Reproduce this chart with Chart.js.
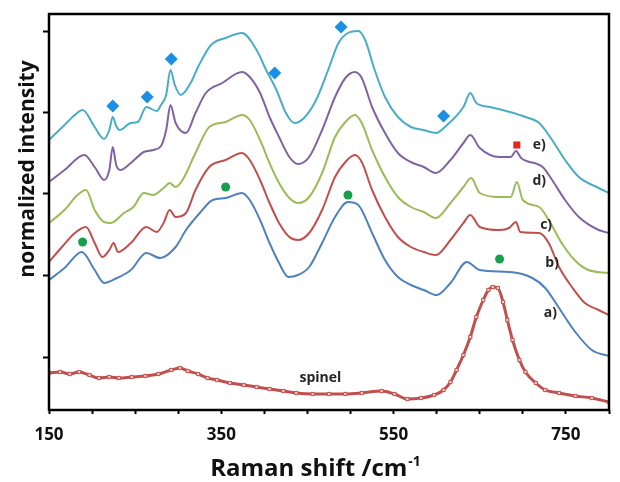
<!DOCTYPE html>
<html>
<head>
<meta charset="utf-8">
<script src="https://cdn.jsdelivr.net/npm/chart.js@4.4.1/dist/chart.umd.min.js"></script>
<style>
  html, body { margin: 0; padding: 0; background: #fff; }
  #wrap { width: 620px; height: 482px; }
</style>
</head>
<body>
<div id="wrap"><canvas id="chart" width="620" height="482"></canvas></div>
<script>
// Raman spectra, [shift cm-1, normalized intensity incl. stacking offset]
const specSpinel = [[150,0.37],[163,0.38],[174,0.36],[185,0.38],[197,0.35],[208,0.32],[220,0.33],[231,0.32],[246,0.33],[262,0.34],[277,0.36],[292,0.40],[302,0.42],[311,0.39],[323,0.36],[334,0.32],[345,0.30],[360,0.27],[376,0.25],[391,0.23],[406,0.21],[422,0.19],[437,0.17],[456,0.16],[475,0.16],[494,0.16],[513,0.17],[536,0.19],[551,0.16],[566,0.11],[582,0.12],[597,0.15],[608,0.20],[616,0.28],[623,0.40],[631,0.55],[639,0.73],[646,0.93],[654,1.10],[660,1.20],[665,1.23],[671,1.22],[677,1.08],[682,0.90],[688,0.70],[696,0.50],[703,0.38],[715,0.27],[726,0.20],[742,0.17],[761,0.14],[780,0.12],[800,0.08]];

const specA = [[150,1.30],[168,1.42],[188,1.58],[203,1.40],[214,1.27],[229,1.32],[245,1.40],[263,1.57],[279,1.52],[297,1.63],[309,1.80],[325,1.97],[340,2.10],[355,2.12],[374,2.17],[383,2.10],[395,1.90],[406,1.67],[417,1.47],[428,1.33],[439,1.35],[452,1.43],[467,1.67],[482,1.93],[497,2.08],[509,2.05],[525,1.77],[540,1.50],[555,1.33],[570,1.25],[585,1.20],[600,1.15],[616,1.27],[635,1.48],[650,1.40],[685,1.38],[711,1.32],[726,1.22],[742,1.02],[760,0.79],[780,0.60],[800,0.54]];

const specB = [[150,1.48],[165,1.63],[180,1.77],[193,1.83],[203,1.67],[212,1.53],[220,1.60],[225,1.67],[230,1.58],[245,1.67],[263,1.83],[275,1.78],[283,1.87],[290,2.00],[297,1.93],[309,1.97],[320,2.20],[336,2.43],[355,2.50],[374,2.57],[383,2.50],[395,2.30],[406,2.07],[417,1.87],[429,1.73],[439,1.70],[452,1.77],[467,2.00],[482,2.33],[494,2.48],[505,2.55],[513,2.48],[525,2.20],[540,1.93],[555,1.73],[570,1.63],[585,1.58],[599,1.55],[616,1.70],[631,1.87],[639,1.95],[650,1.83],[673,1.80],[684,1.82],[692,1.88],[697,1.78],[719,1.77],[730,1.67],[742,1.43],[757,1.23],[772,1.07],[788,1.00],[800,0.95]];

const specC = [[150,1.87],[168,2.00],[183,2.15],[193,2.20],[203,2.00],[214,1.88],[222,1.87],[237,1.97],[248,2.03],[260,2.17],[271,2.15],[283,2.22],[290,2.27],[297,2.23],[305,2.30],[320,2.57],[336,2.83],[355,2.88],[374,2.95],[383,2.90],[395,2.70],[406,2.47],[417,2.27],[429,2.12],[439,2.07],[452,2.13],[467,2.37],[482,2.73],[494,2.88],[505,2.95],[513,2.87],[525,2.60],[540,2.33],[555,2.13],[570,2.03],[585,1.98],[599,1.92],[616,2.07],[631,2.23],[640,2.32],[650,2.17],[673,2.13],[686,2.13],[693,2.28],[700,2.10],[719,2.03],[730,1.90],[745,1.67],[760,1.50],[776,1.40],[800,1.37]];

const specD = [[150,2.28],[168,2.40],[191,2.55],[203,2.43],[214,2.30],[220,2.40],[224,2.63],[228,2.45],[233,2.40],[245,2.47],[260,2.58],[271,2.60],[280,2.64],[286,2.80],[291,3.05],[297,2.87],[309,2.77],[320,2.97],[332,3.17],[351,3.27],[374,3.38],[383,3.33],[395,3.17],[406,2.93],[417,2.73],[429,2.53],[439,2.46],[452,2.53],[467,2.80],[482,3.13],[494,3.32],[505,3.38],[513,3.32],[525,3.03],[540,2.77],[555,2.57],[570,2.48],[585,2.43],[599,2.37],[616,2.50],[631,2.67],[639,2.75],[650,2.62],[673,2.53],[686,2.53],[692,2.59],[698,2.52],[723,2.43],[734,2.30],[749,2.10],[765,1.93],[788,1.80],[800,1.77]];

const specE = [[150,2.70],[168,2.85],[180,2.95],[189,3.00],[203,2.83],[214,2.71],[220,2.80],[224,2.93],[228,2.84],[232,2.80],[245,2.87],[253,2.88],[263,3.03],[275,2.99],[280,3.05],[286,3.15],[291,3.40],[296,3.25],[303,3.15],[315,3.28],[323,3.43],[338,3.65],[355,3.72],[374,3.77],[391,3.60],[402,3.40],[414,3.20],[425,2.97],[435,2.87],[446,2.92],[460,3.10],[474,3.40],[486,3.67],[497,3.77],[509,3.79],[517,3.70],[528,3.40],[540,3.13],[555,2.93],[570,2.83],[585,2.80],[599,2.77],[612,2.85],[631,3.03],[639,3.17],[646,3.07],[662,3.03],[685,2.98],[703,2.93],[719,2.87],[734,2.70],[749,2.50],[765,2.33],[788,2.22],[800,2.17]];

// band markers
const diamondShift = [224, 264, 292, 412, 489, 608];
const diamondInt   = [3.04, 3.13, 3.51, 3.37, 3.83, 2.94];
const circleShift  = [189, 355, 497, 673];
const circleInt    = [1.68, 2.23, 2.15, 1.51];
const squareShift  = [693];
const squareInt    = [2.65];

const curveLabels = ['a)', 'b)', 'c)', 'd)', 'e)', 'spinel'];
const xTickLabels = [150, 350, 550, 750];
const yTicks = [0.53, 1.35, 2.16, 2.97, 3.79];

const toXY = arr => arr.map(p => ({ x: p[0], y: p[1] }));
const zipXY = (xs, ys) => xs.map((x, i) => ({ x, y: ys[i] }));

function line(label, data, color, width) {
  return {
    label, data: toXY(data), borderColor: color, borderWidth: width || 2,
    pointRadius: 0, cubicInterpolationMode: 'monotone', fill: false
  };
}

const spinelSet = line('spinel', specSpinel, '#c0504d', 3);
spinelSet.pointRadius = 2.3;
spinelSet.pointStyle = 'rect';
spinelSet.pointBorderWidth = 1;
spinelSet.pointBackgroundColor = '#f1cfce';
spinelSet.pointBorderColor = '#c0504d';

const FONT = '"Open Sans"';

// where the curve tags sit (data coords)
const tagPos = {
  'a)': [732, 0.97], 'b)': [734, 1.47], 'c)': [727, 1.85],
  'd)': [719, 2.29], 'e)': [719, 2.65], 'spinel': [465, 0.32]
};

const decor = {
  id: 'decor',
  afterDatasetsDraw(chart) {
    const { ctx, chartArea: a, scales: { x, y } } = chart;
    ctx.save();
    ctx.fillStyle = '#262626';
    ctx.font = `bold 14px ${FONT}`;
    ctx.textAlign = 'center';
    ctx.textBaseline = 'middle';
    curveLabels.forEach(t => {
      const p = tagPos[t];
      ctx.fillText(t, x.getPixelForValue(p[0]), y.getPixelForValue(p[1]));
    });
    ctx.strokeStyle = '#000';
    ctx.lineWidth = 2.5;
    ctx.strokeRect(a.left, a.top, a.right - a.left, a.bottom - a.top);
    ctx.restore();
  },
  afterDraw(chart) {
    const { ctx } = chart;
    ctx.save();
    ctx.fillStyle = '#111';
    ctx.textBaseline = 'alphabetic';
    // x title with superscript
    const main = 'Raman shift /cm', sup = '-1';
    ctx.font = `bold 24px ${FONT}`;
    const w1 = ctx.measureText(main).width;
    ctx.font = `bold 14px ${FONT}`;
    const w2 = ctx.measureText(sup).width;
    const sx = 315 - (w1 + w2) / 2;
    ctx.textAlign = 'left';
    ctx.font = `bold 24px ${FONT}`;
    ctx.fillText(main, sx, 476);
    ctx.font = `bold 14px ${FONT}`;
    ctx.fillText(sup, sx + w1 + 1, 466);
    // y title
    ctx.translate(34, 169);
    ctx.rotate(-Math.PI / 2);
    ctx.textAlign = 'center';
    ctx.font = `bold 21px ${FONT}`;
    ctx.fillText('normalized intensity', 0, 0);
    ctx.restore();
  }
};

new Chart(document.getElementById('chart'), {
  type: 'scatter',
  data: {
    datasets: [
      spinelSet,
      line('a)', specA, '#4f81bd'),
      line('b)', specB, '#c0504d'),
      line('c)', specC, '#9bbb59'),
      line('d)', specD, '#8064a2'),
      line('e)', specE, '#4bacc6'),
      { label: 'diamonds', data: zipXY(diamondShift, diamondInt), showLine: false,
        pointStyle: 'rectRot', pointRadius: 6.5, backgroundColor: '#1a8fe3', borderWidth: 0 },
      { label: 'circles', data: zipXY(circleShift, circleInt), showLine: false,
        pointStyle: 'circle', pointRadius: 4.5, backgroundColor: '#17a04c', borderWidth: 0 },
      { label: 'square', data: zipXY(squareShift, squareInt), showLine: false,
        pointStyle: 'rect', pointRadius: 5, backgroundColor: '#e8261e', borderWidth: 0 }
    ]
  },
  options: {
    responsive: false,
    animation: false,
    showLine: true,
    layout: { padding: { top: 14, right: 3, left: 0, bottom: 0 } },
    plugins: { legend: { display: false }, tooltip: { enabled: false } },
    scales: {
      x: {
        type: 'linear', min: 150, max: 800,
        border: { display: false },
        grid: { drawOnChartArea: false, color: '#000', tickLength: 4, tickWidth: 2 },
        ticks: {
          stepSize: 50, color: '#111', padding: 11,
          font: { family: 'Open Sans', size: 17, weight: 'bold' },
          callback: v => xTickLabels.includes(v) ? String(v) : ''
        },
        afterFit: s => { s.height = 72; }
      },
      y: {
        min: 0, max: 3.96,
        border: { display: false },
        grid: { drawOnChartArea: false, color: '#000', tickLength: 6, tickWidth: 2 },
        ticks: { callback: () => '' },
        afterBuildTicks: s => { s.ticks = yTicks.map(v => ({ value: v })); },
        afterFit: s => { s.width = 49; }
      }
    }
  },
  plugins: [decor]
});
</script>
</body>
</html>
